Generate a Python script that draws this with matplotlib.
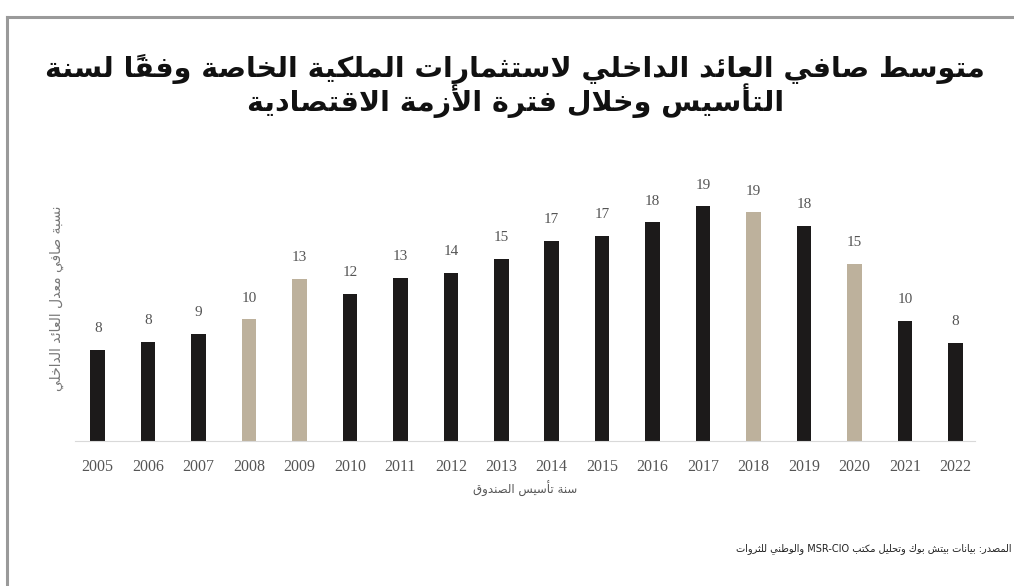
import matplotlib
matplotlib.use('Agg')
import matplotlib.pyplot as plt
from matplotlib.lines import Line2D

# --- Arabic shaping (matplotlib has no complex text layout) ---
# base code point of presentation form; 4 forms (iso, fin, ini, med) or 2 (iso, fin)
DUAL = {'ئ': 0xFE89, 'ب': 0xFE8F, 'ت': 0xFE95, 'ث': 0xFE99, 'ج': 0xFE9D, 'ح': 0xFEA1,
        'خ': 0xFEA5, 'س': 0xFEB1, 'ش': 0xFEB5, 'ص': 0xFEB9, 'ض': 0xFEBD, 'ط': 0xFEC1,
        'ظ': 0xFEC5, 'ع': 0xFEC9, 'غ': 0xFECD, 'ف': 0xFED1, 'ق': 0xFED5, 'ك': 0xFED9,
        'ل': 0xFEDD, 'م': 0xFEE1, 'ن': 0xFEE5, 'ه': 0xFEE9, 'ي': 0xFEF1}
RIGHT = {'آ': 0xFE81, 'أ': 0xFE83, 'ؤ': 0xFE85, 'إ': 0xFE87, 'ا': 0xFE8D, 'ة': 0xFE93,
         'د': 0xFEA9, 'ذ': 0xFEAB, 'ر': 0xFEAD, 'ز': 0xFEAF, 'و': 0xFEED, 'ى': 0xFEEF}
LAM_ALEF = {'ا': 0xFEFB, 'أ': 0xFEF7, 'إ': 0xFEF9, 'آ': 0xFEF5}
MARKS = set(chr(c) for c in range(0x064B, 0x0653))


def is_ar(ch):
    return ch in DUAL or ch in RIGHT or ch == 'ء'


def shape(text):
    # cluster = [base, marks]
    clusters = []
    for ch in text:
        if ch in MARKS and clusters:
            clusters[-1][1] += ch
        else:
            clusters.append([ch, ''])
    # merge lam + alef
    merged = []
    i = 0
    while i < len(clusters):
        b, m = clusters[i]
        if b == 'ل' and i + 1 < len(clusters) and clusters[i + 1][0] in LAM_ALEF:
            merged.append(['LA' + clusters[i + 1][0], m + clusters[i + 1][1]])
            i += 2
        else:
            merged.append([b, m])
            i += 1
    out = []
    for i, (b, m) in enumerate(merged):
        prev = merged[i - 1][0] if i > 0 else ''
        nxt = merged[i + 1][0] if i + 1 < len(merged) else ''
        join_prev = prev in DUAL
        if b.startswith('LA'):
            base = LAM_ALEF[b[2]]
            g = chr(base + 1) if join_prev else chr(base)
        elif b in DUAL:
            join_next = is_ar(nxt) or nxt.startswith('LA')
            idx = {(False, False): 0, (True, False): 1, (False, True): 2, (True, True): 3}[(join_prev, join_next)]
            g = chr(DUAL[b] + idx)
        elif b in RIGHT:
            g = chr(RIGHT[b] + (1 if join_prev else 0))
        else:
            g = b
        out.append((g, m, b))
    # visual order: reverse, keep latin/digit runs left-to-right
    runs = []
    for g, m, b in out:
        ltr = b.isascii() and (b.isalnum() or b in '-')
        if runs and runs[-1][0] == ltr:
            runs[-1][1].append(g + m)
        elif b == ' ' and runs and runs[-1][0]:
            runs[-1][1].append(g)
        else:
            runs.append([ltr, [g + m]])
    vis = ''
    for ltr, items in reversed(runs):
        if ltr:
            s = ''.join(items)
            trail = len(s) - len(s.rstrip(' '))
            vis += ' ' * trail + s.rstrip(' ')
        else:
            vis += ''.join(reversed(items))
    return vis


# --- data ---
years = ['2005', '2006', '2007', '2008', '2009', '2010', '2011', '2012', '2013',
         '2014', '2015', '2016', '2017', '2018', '2019', '2020', '2021', '2022']
irr = [7.4, 8.1, 8.7, 9.9, 13.2, 12.0, 13.3, 13.7, 14.8,
       16.3, 16.7, 17.8, 19.1, 18.6, 17.5, 14.4, 9.8, 8.0]
irr_labels = ['8', '8', '9', '10', '13', '12', '13', '14', '15',
              '17', '17', '18', '19', '19', '18', '15', '10', '8']
crisis_years = ['2008', '2009', '2018', '2020']

title = 'متوسط صافي العائد الداخلي لاستثمارات الملكية الخاصة وفقاً لسنة'
title2 = 'التأسيس وخلال فترة الأزمة الاقتصادية'
ylabel = 'نسبة صافي معدل العائد الداخلي'
xlabel = 'سنة تأسيس الصندوق'
source = 'المصدر: بيانات بيتش بوك وتحليل مكتب MSR-CIO والوطني للثروات'

dark = '#1c1a1a'
beige = '#bdb19c'
colors = [beige if y in crisis_years else dark for y in years]

fig = plt.figure(figsize=(10.14, 5.86), dpi=100)
ax = fig.add_axes([0.074, 0.247, 0.888, 0.445])

x = list(range(len(years)))
bars = ax.bar(x, irr, width=0.29, color=colors)
for xi, v, lab in zip(x, irr, irr_labels):
    ax.text(xi, v + 1.2, lab, ha='center', va='bottom', fontsize=11,
            family='Liberation Serif', color='#555555')

ax.set_xlim(-0.45, 17.4)
ax.set_ylim(0, 21.2)
ax.set_xticks(x)
ax.set_xticklabels(years, family='Liberation Serif', fontsize=11.5, color='#555555')
ax.tick_params(axis='x', length=0, pad=13)
ax.set_yticks([])
for s in ['top', 'right', 'left']:
    ax.spines[s].set_visible(False)
ax.spines['bottom'].set_color('#d9d9d9')

ax.set_xlabel(shape(xlabel), family='DejaVu Sans', fontsize=8.5, color='#555555', labelpad=4)
ax.set_ylabel(shape(ylabel), family='DejaVu Sans', fontsize=10, color='#777777')
ax.yaxis.set_label_coords(-0.012, 0.55)

fig.text(0.508, 0.882, shape(title), ha='center', va='center', fontsize=20.5,
         fontweight='bold', family='DejaVu Sans', color='#111111')
fig.text(0.508, 0.828, shape(title2), ha='center', va='center', fontsize=20.5,
         fontweight='bold', family='DejaVu Sans', color='#111111')
fig.text(0.998, 0.064, shape(source), ha='right', va='center', fontsize=7,
         family='DejaVu Sans', color='#222222')

# frame
fig.add_artist(Line2D([0.007, 1.0], [0.971, 0.971], transform=fig.transFigure,
                      color='#9a9a9a', lw=2.2))
fig.add_artist(Line2D([0.007, 0.007], [0.0, 0.971], transform=fig.transFigure,
                      color='#9a9a9a', lw=2.2))

fig.savefig('out.png', dpi=100)
